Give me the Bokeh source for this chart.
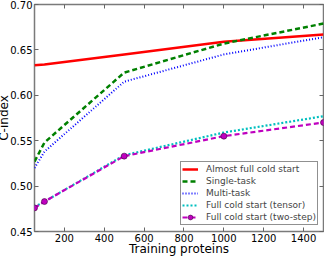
from bokeh.plotting import figure
from bokeh.models import Range1d, FixedTicker, LinearAxis, Legend, LegendItem, NumeralTickFormatter
from bokeh.embed import file_html
from bokeh.resources import INLINE

# ---- data ----
proteins = [50, 100, 500, 1000, 1500]
almost_full = [0.633, 0.634, 0.645, 0.659, 0.667]
single_task = [0.527, 0.548, 0.625, 0.657, 0.679]
multi_task = [0.520, 0.538, 0.615, 0.645, 0.664]
full_tensor = [0.477, 0.483, 0.534, 0.559, 0.577]
full_twostep = [0.476, 0.483, 0.533, 0.555, 0.570]
x_ticks = [200, 400, 600, 800, 1000, 1200, 1400]
y_ticks = [0.45, 0.50, 0.55, 0.60, 0.65, 0.70]

FONT = "DejaVu Sans"

p = figure(width=330, height=258, output_backend="svg", toolbar_location=None,
           x_range=Range1d(50, 1500), y_range=Range1d(0.45, 0.70),
           min_border_left=32, min_border_right=1, min_border_top=4, min_border_bottom=25,
           margin=(0, -8, -8, -6))
p.grid.visible = False
p.background_fill_color = "white"
p.outline_line_color = "#7a7a7a"
p.outline_line_width = 1.5

for ax in (p.xaxis[0], p.yaxis[0]):
    ax.axis_line_color = None
    ax.major_tick_in = 4
    ax.major_tick_out = 0
    ax.minor_tick_line_color = None
    ax.major_tick_line_color = "#666666"
    ax.major_label_text_font = FONT
    ax.major_label_text_font_size = "10px"
    ax.major_label_text_color = "black"
    ax.axis_label_text_font = FONT
    ax.axis_label_text_font_size = "12px"
    ax.axis_label_text_font_style = "normal"
    ax.axis_label_text_color = "black"
    ax.major_label_standoff = 3

p.xaxis[0].ticker = FixedTicker(ticks=x_ticks)
p.yaxis[0].ticker = FixedTicker(ticks=y_ticks)
p.yaxis[0].formatter = NumeralTickFormatter(format="0.00")
p.xaxis[0].axis_label = "Training proteins"
p.yaxis[0].axis_label = "C-index"
p.xaxis[0].axis_label_standoff = -3
p.xaxis[0].major_label_standoff = 2
p.yaxis[0].major_label_standoff = 2
p.yaxis[0].axis_label_standoff = -4

# mirrored inner ticks on top and right
for side, tk in (("above", x_ticks), ("right", y_ticks)):
    a = LinearAxis(ticker=FixedTicker(ticks=tk))
    a.axis_line_color = None
    a.major_tick_in = 4
    a.major_tick_out = 0
    a.minor_tick_line_color = None
    a.major_tick_line_color = "#666666"
    a.major_label_text_font_size = "0px"
    a.major_label_standoff = 0
    p.add_layout(a, side)

r1 = p.line(proteins, almost_full, line_color="#ff0000", line_width=2.5)
r2 = p.line(proteins, single_task, line_color="#008000", line_width=2.5, line_dash="5 3")
r3 = p.line(proteins, multi_task, line_color="#0000ff", line_width=2, line_dash="1 2")
r4 = p.line(proteins, full_tensor, line_color="#00bfbf", line_width=2.2, line_dash="2 2")
r5 = p.line(proteins, full_twostep, line_color="#bf00bf", line_width=2.2, line_dash="5 3")
r6 = p.scatter(proteins, full_twostep, marker="circle", size=6, fill_color="#bf00bf",
               line_color="#400040", line_width=0.6)

legend = Legend(items=[
    LegendItem(label="Almost full cold start", renderers=[r1]),
    LegendItem(label="Single-task", renderers=[r2]),
    LegendItem(label="Multi-task", renderers=[r3]),
    LegendItem(label="Full cold start (tensor)", renderers=[r4]),
    LegendItem(label="Full cold start (two-step)", renderers=[r5, r6]),
], location=(146, 6))
legend.label_text_font = FONT
legend.label_text_font_size = "9px"
legend.label_height = 12
legend.glyph_height = 12
legend.glyph_width = 16
legend.spacing = 0
legend.padding = 1
legend.margin = 0
legend.label_standoff = 8
legend.border_line_color = "#222222"
legend.border_line_width = 1
legend.background_fill_alpha = 1
p.add_layout(legend, "center")

open("out.html", "w").write(file_html(p, INLINE))
